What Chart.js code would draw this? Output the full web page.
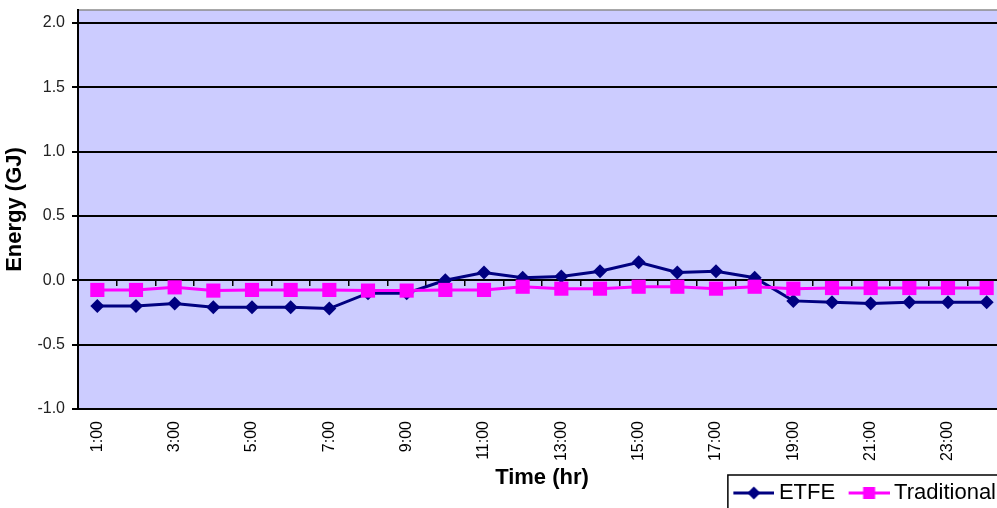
<!DOCTYPE html>
<html>
<head>
<meta charset="utf-8">
<title>Hourly energy: ETFE vs Traditional</title>
<script src="https://cdn.jsdelivr.net/npm/chart.js@4.4.1/dist/chart.umd.min.js"></script>
<style>
  html, body { margin: 0; padding: 0; background: #ffffff; overflow: hidden; }
  canvas { display: block; }
</style>
</head>
<body>
<canvas id="energyChart" width="1009" height="514"></canvas>
<script>
// Hour of day (category axis)
const hours = ['1:00', '2:00', '3:00', '4:00', '5:00', '6:00', '7:00', '8:00',
               '9:00', '10:00', '11:00', '12:00', '13:00', '14:00', '15:00', '16:00',
               '17:00', '18:00', '19:00', '20:00', '21:00', '22:00', '23:00', '24:00'];

// Hourly energy in GJ
const etfe = [-0.20, -0.20, -0.18, -0.21, -0.21, -0.21, -0.22, -0.10,
              -0.10, 0.00, 0.06, 0.02, 0.03, 0.07, 0.14, 0.06,
              0.07, 0.02, -0.16, -0.17, -0.18, -0.17, -0.17, -0.17];
const traditional = [-0.075, -0.075, -0.055, -0.08, -0.075, -0.075, -0.075, -0.08,
                     -0.08, -0.075, -0.075, -0.05, -0.065, -0.065, -0.05, -0.05,
                     -0.065, -0.05, -0.065, -0.06, -0.06, -0.06, -0.06, -0.06];

// Value axis tick labels
const energyTicks = [-1.0, -0.5, 0.0, 0.5, 1.0, 1.5, 2.0];

const seriesNames = ['ETFE', 'Traditional'];
const seriesColors = ['#000080', '#FF00FF'];
const FONT = "'Liberation Sans', Arial, sans-serif";

// Legend swatch: a short line with the series marker in the middle
function legendSwatch(color, shape) {
  const c = document.createElement('canvas');
  c.width = 48; c.height = 16;
  const g = c.getContext('2d');
  const mx = 27.5;
  g.strokeStyle = color; g.lineWidth = 3;
  g.beginPath(); g.moveTo(7, 8); g.lineTo(48, 8); g.stroke();
  g.fillStyle = color;
  if (shape === 'diamond') {
    g.beginPath(); g.moveTo(mx, 1.5); g.lineTo(mx + 6.5, 8); g.lineTo(mx, 14.5); g.lineTo(mx - 6.5, 8);
    g.closePath(); g.fill();
  } else {
    g.fillRect(mx - 6, 2, 12, 12);
  }
  return c;
}
const swatches = [legendSwatch(seriesColors[0], 'diamond'), legendSwatch(seriesColors[1], 'square')];

// Scales keep to their own boxes: no extra room for overhanging labels
function noOverhang(s) {
  s.paddingLeft = 0; s.paddingRight = 0; s.paddingTop = 0; s.paddingBottom = 0;
}

// Lavender plot area with a grey frame
const plotBackground = {
  id: 'plotBackground',
  beforeDraw(chart) {
    const { ctx, chartArea: a } = chart;
    ctx.save();
    ctx.fillStyle = '#CCCCFF';
    ctx.fillRect(a.left, a.top, a.right - a.left, a.bottom - a.top);
    ctx.strokeStyle = '#8c8c8c';
    ctx.lineWidth = 1.5;
    ctx.strokeRect(a.left, a.top, a.right - a.left, a.bottom - a.top);
    ctx.restore();
  }
};

// Thin black frame around the legend entries
const legendFrame = {
  id: 'legendFrame',
  afterDraw(chart) {
    const boxes = chart.legend && chart.legend.legendHitBoxes;
    if (!boxes || !boxes.length) return;
    const first = boxes[0];
    const ctx = chart.ctx;
    ctx.save();
    ctx.strokeStyle = '#000';
    ctx.lineWidth = 1.5;
    ctx.strokeRect(first.left - 5, first.top - 7, chart.width, 80);
    ctx.restore();
  }
};

new Chart(document.getElementById('energyChart'), {
  type: 'line',
  data: {
    labels: hours,
    datasets: [
      {
        label: seriesNames[0],
        data: etfe,
        borderColor: seriesColors[0],
        backgroundColor: seriesColors[0],
        pointBackgroundColor: seriesColors[0],
        pointBorderColor: seriesColors[0],
        borderWidth: 3,
        pointStyle: 'rectRot',
        pointRadius: 7,
        pointBorderWidth: 0,
        tension: 0,
        order: 2
      },
      {
        label: seriesNames[1],
        data: traditional,
        borderColor: seriesColors[1],
        backgroundColor: seriesColors[1],
        pointBackgroundColor: seriesColors[1],
        pointBorderColor: seriesColors[1],
        borderWidth: 3,
        pointStyle: 'rect',
        pointRadius: 10,
        pointBorderWidth: 0,
        tension: 0,
        order: 1
      }
    ]
  },
  options: {
    responsive: false,
    animation: false,
    devicePixelRatio: 1,
    events: [],
    layout: { autoPadding: false, padding: { top: 10, left: 0, right: 0, bottom: 0 } },
    scales: {
      x: {
        type: 'category',
        offset: true,
        // hidden grid; its tick length only spaces the labels from the plot
        grid: { display: false, drawTicks: true, tickLength: 12 },
        border: { display: false },
        ticks: {
          autoSkip: false,
          minRotation: 90,
          maxRotation: 90,
          padding: 0,
          color: '#000',
          font: { family: FONT, size: 16 },
          callback: (v, i) => (i % 2 === 0 ? hours[i] : '')
        },
        title: {
          display: true,
          text: 'Time (hr)',
          color: '#000',
          font: { family: FONT, size: 22, weight: 'bold' },
          padding: { top: 0, bottom: -22 }
        },
        afterFit(s) { s.height = 60; noOverhang(s); }
      },
      // category axis crossing the value axis at zero, ticks between hours
      x0: {
        type: 'category',
        axis: 'x',
        position: { y: 0 },
        offset: true,
        grid: { offset: true, drawOnChartArea: false, drawTicks: true, tickLength: 5, color: '#000', lineWidth: 1.5 },
        border: { display: true, color: '#000', width: 2 },
        ticks: { display: false },
        afterFit: noOverhang
      },
      y: {
        min: -1,
        max: 2.1,
        afterBuildTicks(s) { s.ticks = energyTicks.map(v => ({ value: v })); },
        grid: { color: '#000', lineWidth: 2, tickLength: 6, drawTicks: true },
        border: { color: '#000', width: 2 },
        ticks: {
          padding: 7,
          color: '#222',
          font: { family: FONT, size: 16 },
          callback: v => Number(v).toFixed(1)
        },
        title: {
          display: true,
          text: 'Energy (GJ)',
          color: '#000',
          font: { family: FONT, size: 22, weight: 'bold' },
          padding: { top: 2, bottom: 0 }
        },
        afterFit(s) { s.width = 78; noOverhang(s); }
      },
      yR: {
        type: 'linear',
        position: 'right',
        display: true,
        grid: { display: false, drawTicks: false },
        border: { display: false },
        ticks: { display: false },
        afterFit(s) { s.width = 3; noOverhang(s); }
      }
    },
    plugins: {
      tooltip: { enabled: false },
      legend: {
        display: true,
        position: 'bottom',
        align: 'end',
        labels: {
          usePointStyle: true,
          pointStyleWidth: 35,
          padding: 13,
          color: '#000',
          font: { family: FONT, size: 22 },
          generateLabels: () => seriesNames.map((name, i) => ({
            text: name,
            pointStyle: swatches[i],
            fillStyle: seriesColors[i],
            strokeStyle: seriesColors[i],
            lineWidth: 0,
            hidden: false,
            datasetIndex: i,
            fontColor: '#000'
          }))
        }
      }
    }
  },
  plugins: [plotBackground, legendFrame]
});
</script>
</body>
</html>
